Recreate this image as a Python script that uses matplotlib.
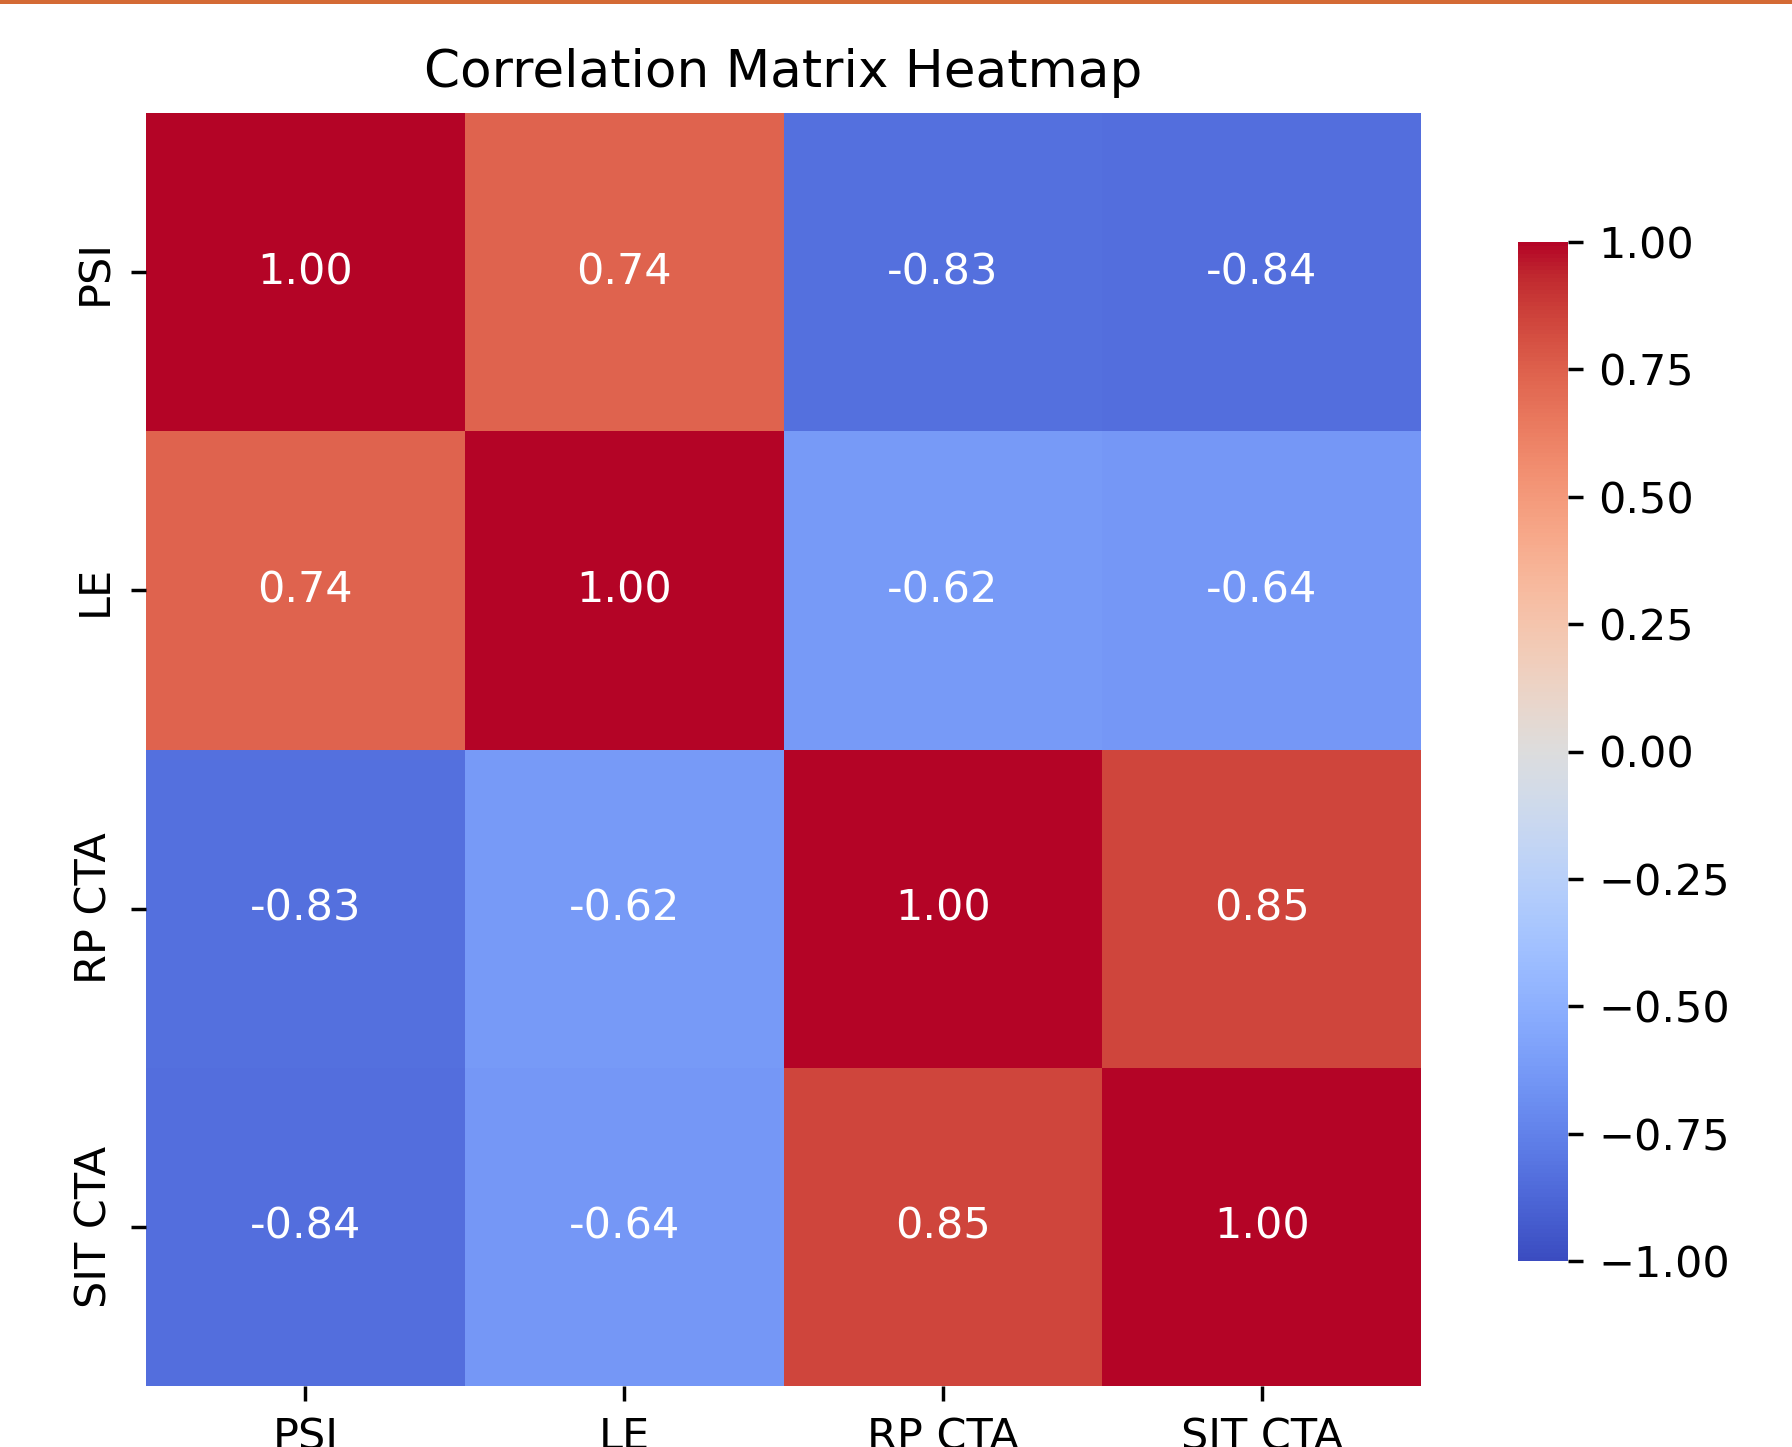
import matplotlib
matplotlib.use("Agg")
import matplotlib.pyplot as plt
from matplotlib.patches import Rectangle
import numpy as np

# Data
labels = ["PSI", "LE", "RP CTA", "SIT CTA"]
corr = [
    [1.00, 0.74, -0.83, -0.84],
    [0.74, 1.00, -0.62, -0.64],
    [-0.83, -0.62, 1.00, 0.85],
    [-0.84, -0.64, 0.85, 1.00],
]
cbar_ticks = [-1.00, -0.75, -0.50, -0.25, 0.00, 0.25, 0.50, 0.75, 1.00]

S = 3.1  # scale of the screenshot relative to default sizes
fs = 10 * S

fig = plt.figure(figsize=(17.92, 14.47), dpi=100)
W, H = 1792, 1447

# heatmap axes
ax = fig.add_axes([146 / W, 1 - 1386 / H, 1275 / W, 1273 / H])
data = np.array(corr)
mesh = ax.pcolormesh(data, cmap="coolwarm", vmin=-1, vmax=1)
ax.set_xlim(0, len(labels))
ax.set_ylim(len(labels), 0)
for s in ax.spines.values():
    s.set_visible(False)

for i in range(len(labels)):
    for j in range(len(labels)):
        ax.text(j + 0.5, i + 0.5, f"{data[i, j]:.2f}", ha="center", va="center",
                color="white", fontsize=fs)

ax.set_xticks(np.arange(len(labels)) + 0.5)
ax.set_yticks(np.arange(len(labels)) + 0.5)
ax.set_xticklabels(labels)
ax.set_yticklabels(labels, rotation=90, va="center")
ax.tick_params(labelsize=fs, length=3.5 * S, width=0.8 * S, pad=3.5 * S)
ax.set_title("Correlation Matrix Heatmap", fontsize=12 * S, pad=6 * S)

# colorbar
cax = fig.add_axes([1518 / W, 1 - 1261 / H, 50 / W, 1019 / H])
cb = fig.colorbar(mesh, cax=cax, ticks=cbar_ticks, format="%.2f")
cb.outline.set_linewidth(0)
cax.tick_params(labelsize=fs, length=3.5 * S, width=0.8 * S, pad=3.5 * S)
cax.set_yticklabels([f"{t:.2f}".replace("-", "\u2212") for t in cbar_ticks])

# orange strip at the top of the screenshot
fig.add_artist(Rectangle((0, 1 - 3.5 / H), 1, 3.5 / H, transform=fig.transFigure,
                         color="#D46A35", lw=0))

fig.savefig("out.png", dpi=100)
